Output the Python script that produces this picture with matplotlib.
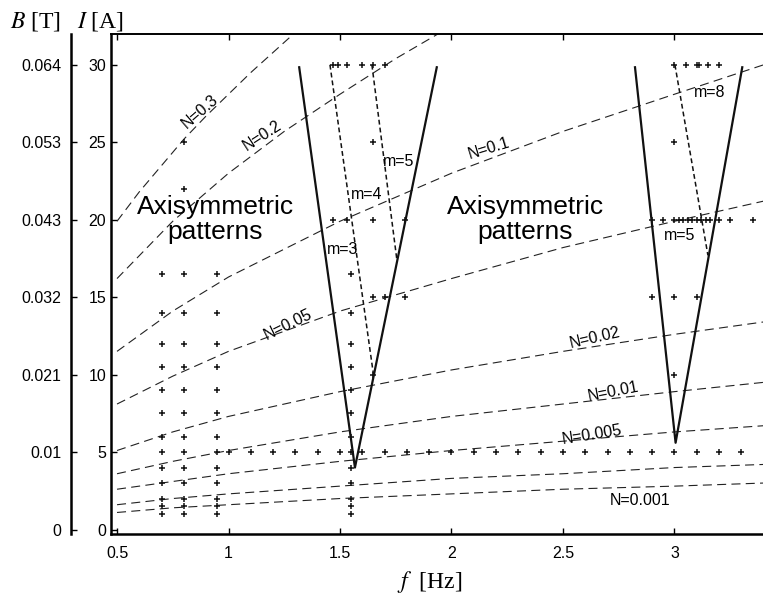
import numpy as np
import matplotlib
matplotlib.use("Agg")
import matplotlib.pyplot as plt

plt.rcParams['font.family'] = ['Liberation Sans', 'DejaVu Sans']
plt.rcParams['mathtext.fontset'] = 'stix'
plt.rcParams['lines.scale_dashes'] = False

# current I [A] ticks and matching field B [T]
I_ticks = [0, 5, 10, 15, 20, 25, 30]
B_labels = ['0', '0.01', '0.021', '0.032', '0.043', '0.053', '0.064']
f_ticks = [0.5, 1, 1.5, 2, 2.5, 3]

# constant-N curves
N_names = ['0.3', '0.2', '0.1', '0.05', '0.02', '0.01', '0.005', '0.002', '0.001']
N_f = [
    [0.5, 0.6, 0.7, 0.8, 0.9, 1.0, 1.1, 1.2, 1.3],
    [0.5, 0.75, 1.0, 1.25, 1.5, 1.75, 2.0],
    [0.5, 0.75, 1.0, 1.5, 2.0, 2.5, 3.0, 3.4],
    [0.5, 0.75, 1.0, 1.5, 2.0, 2.5, 3.0, 3.4],
    [0.5, 0.75, 1.0, 1.5, 2.0, 2.5, 3.0, 3.4],
    [0.5, 0.75, 1.0, 1.5, 2.0, 2.5, 3.0, 3.4],
    [0.5, 0.75, 1.0, 1.5, 2.0, 2.5, 3.0, 3.4],
    [0.5, 0.75, 1.0, 1.5, 2.0, 2.5, 3.0, 3.4],
    [0.5, 0.75, 1.0, 1.5, 2.0, 2.5, 3.0, 3.4],
]
N_I = [
    [19.9, 21.8, 23.5, 25.2, 26.7, 28.1, 29.5, 30.8, 32.1],
    [16.2, 19.9, 23.0, 25.7, 28.1, 30.4, 32.5],
    [11.5, 14.1, 16.3, 19.9, 23.0, 25.7, 28.1, 30.0],
    [8.1, 9.9, 11.5, 14.1, 16.2, 18.2, 19.9, 21.2],
    [5.1, 6.3, 7.3, 8.9, 10.3, 11.5, 12.6, 13.4],
    [3.6, 4.4, 5.1, 6.3, 7.3, 8.1, 8.9, 9.5],
    [2.6, 3.1, 3.6, 4.4, 5.1, 5.7, 6.3, 6.7],
    [1.6, 2.0, 2.3, 2.8, 3.3, 3.6, 4.0, 4.2],
    [1.1, 1.4, 1.6, 2.0, 2.3, 2.6, 2.8, 3.0],
]
# label position (f, I) and angle for labelled curves
N_lab_f = [0.872, 1.15, 2.17, 1.267, 2.643, 2.724, 2.63, None, 2.845]
N_lab_I = [26.95, 25.4, 24.6, 13.2, 12.35, 8.88, 6.1, None, 1.9]
N_lab_rot = [41, 33, 17, 26, 13, 11, 9, None, 0]

# stability boundaries (solid)
V_left_f = [1.317, 1.567, 1.934]
V_left_I = [29.84, 4.0, 29.84]
V_right_f = [2.823, 3.005, 3.304]
V_right_I = [29.84, 5.6, 29.84]

# mode boundaries (short dashes)
m_lines_f = [[1.455, 1.652], [1.643, 1.756], [3.002, 3.15]]
m_lines_I = [[30, 9.8], [30, 17.3], [30, 17.7]]
m_names = ['m=3', 'm=4', 'm=5', 'm=8', 'm=5']
m_lab_f = [1.513, 1.62, 1.765, 3.159, 3.025]
m_lab_I = [18.05, 21.6, 23.75, 28.2, 19.0]

# experimental runs
block_f = [0.7, 0.8, 0.95, 1.55]
block_I = [1, 1.5, 2, 3, 4, 5, 6, 7.5, 9, 10.5, 12, 14, 16.5]
row5_f = [1.0, 1.1, 1.2, 1.3, 1.4, 1.5, 1.6, 1.7, 1.8, 1.9, 2.0, 2.1, 2.2,
          2.3, 2.4, 2.5, 2.6, 2.7, 2.8, 2.9, 3.0, 3.1, 3.2, 3.3]
extra_f = [0.8, 0.8,
           1.47, 1.49, 1.53, 1.6, 1.65, 1.7, 1.65, 1.47, 1.53, 1.65, 1.79,
           1.65, 1.7, 1.79, 1.65,
           3.0, 3.05, 3.1, 3.11, 3.15, 3.2, 3.0,
           2.9, 2.95, 3.0, 3.02, 3.04, 3.06, 3.08, 3.1, 3.12, 3.14, 3.16,
           3.2, 3.25, 3.35, 2.9, 3.0, 3.1, 3.0]
extra_I = [22, 25,
           30, 30, 30, 30, 30, 30, 25, 20, 20, 20, 20,
           15, 15, 15, 10,
           30, 30, 30, 30, 30, 30, 25,
           20, 20, 20, 20, 20, 20, 20, 20, 20, 20, 20,
           20, 20, 20, 15, 15, 15, 10]

fig = plt.figure(figsize=(7.63, 5.96), dpi=100)
ax = fig.add_axes([111/763, 62/596, 652/763, 500.5/596])

for fs, Is in zip(N_f, N_I):
    ax.plot(fs, Is, color='#222222', lw=0.8, linestyle=(0, (6.5, 3.8)))
for name, lf, li, rot in zip(N_names, N_lab_f, N_lab_I, N_lab_rot):
    if lf is not None:
        ax.text(lf, li, 'N=' + name, fontsize=11.5, rotation=rot,
                ha='center', va='center', rotation_mode='anchor')

ax.plot(V_left_f, V_left_I, color='#111111', lw=1.6)
ax.plot(V_right_f, V_right_I, color='#111111', lw=1.6)
for fs, Is in zip(m_lines_f, m_lines_I):
    ax.plot(fs, Is, color='#111111', lw=1.1, linestyle=(0, (3.5, 2.2)))
for name, lf, li in zip(m_names, m_lab_f, m_lab_I):
    ax.text(lf, li, name, fontsize=11.5, ha='center', va='center')

bf, bi = np.meshgrid(block_f, block_I)
ax.plot(bf.ravel(), bi.ravel(), '+', color='#111111', ms=5, mew=1.1)
ax.plot(row5_f, [5] * len(row5_f), '+', color='#111111', ms=5, mew=1.1)
ax.plot(extra_f, extra_I, '+', color='#111111', ms=5, mew=1.1)

ax.text(0.94, 20, 'Axisymmetric\npatterns', fontsize=19, ha='center',
        va='center', linespacing=1.05)
ax.text(2.33, 20, 'Axisymmetric\npatterns', fontsize=19, ha='center',
        va='center', linespacing=1.05)

ax.set_xlim(0.473, 3.397)
ax.set_ylim(-0.29, 32.02)
ax.set_xticks(f_ticks)
ax.set_xticklabels(['0.5', '1', '1.5', '2', '2.5', '3'])
ax.set_yticks(I_ticks)
ax.tick_params(direction='in', length=4.3, width=1.0, labelsize=11.5,
               top=True, right=False)
ax.tick_params(axis='x', pad=9)
ax.tick_params(axis='y', pad=3.5)
for s in ['left', 'bottom']:
    ax.spines[s].set_linewidth(1.8)
ax.spines['top'].set_linewidth(1.4)
ax.spines['right'].set_visible(False)

# second scale for the magnetic field
ax2 = fig.add_axes([70.5/763, 62/596, 0.001, 500.5/596])
ax2.set_ylim(ax.get_ylim())
ax2.set_yticks(I_ticks)
ax2.set_yticklabels(B_labels)
ax2.set_xticks([])
for s in ['right', 'top', 'bottom']:
    ax2.spines[s].set_visible(False)
ax2.spines['left'].set_linewidth(1.8)
ax2.patch.set_visible(False)
ax2.tick_params(axis='y', direction='in', length=4.3, width=1.0,
                labelsize=11.5, pad=6.5)

fig.text(10/763, 1 - 21.5/596, r'$B$ [T]', fontsize=17,
         family='Liberation Serif', va='center', ha='left')
fig.text(77/763, 1 - 21.5/596, r'$I$ [A]', fontsize=17,
         family='Liberation Serif', va='center', ha='left')
fig.text(430/763, 1 - 582/596, r'$f$  [Hz]', fontsize=17,
         family='Liberation Serif', va='center', ha='center')

fig.savefig('out.png', dpi=100)
